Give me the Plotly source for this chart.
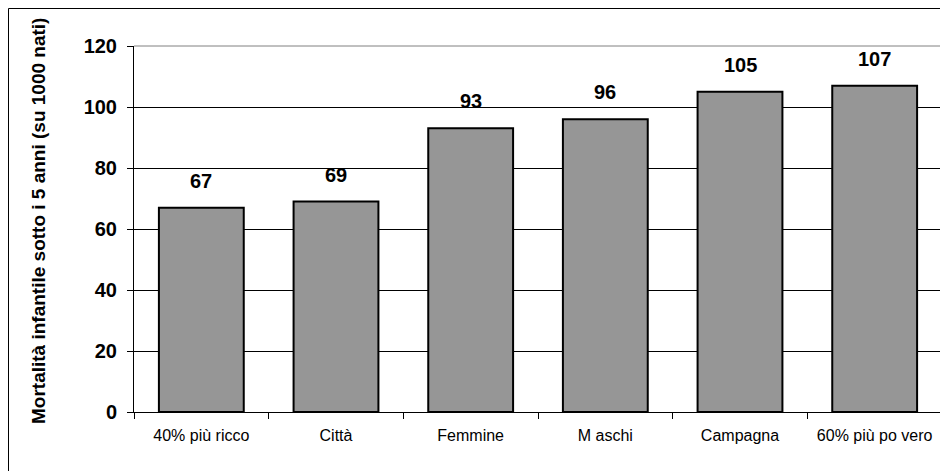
import plotly.graph_objects as go

categories = ["40% più ricco", "Città", "Femmine", "M aschi", "Campagna", "60% più po vero"]
values = [67, 69, 93, 96, 105, 107]
y_ticks = [0, 20, 40, 60, 80, 100, 120]
y_title = "Mortalità infantile sotto i 5 anni (su 1000 nati)"

W, H = 940, 463
L, R, T, B = 126, 6, 38, 59
pw = W - L - R
ph = H - T - B


def px(fx):
    return (fx - L) / pw


def py(fy):
    return (H - B - fy) / ph


fig = go.Figure()
fig.add_trace(go.Bar(
    x=categories, y=values,
    marker=dict(color="#969696", line=dict(color="black", width=2)),
    width=0.63,
))

for c, v in zip(categories, values):
    fig.add_annotation(
        x=c, y=v, text=str(v), showarrow=False,
        yanchor="bottom", yshift=14,
        font=dict(family="Liberation Sans", size=20, color="black", weight="bold"),
    )

fig.add_annotation(
    xref="paper", yref="paper", x=px(30), y=py(213),
    text=y_title, textangle=-90, showarrow=False,
    xanchor="center", yanchor="middle",
    font=dict(family="Liberation Sans", size=19, color="black", weight="bold"),
)

fig.update_layout(
    width=W, height=H,
    margin=dict(l=L, r=R, t=T, b=B),
    paper_bgcolor="white", plot_bgcolor="white",
    showlegend=False,
    font=dict(family="Liberation Sans", color="black"),
    xaxis=dict(
        showline=True, linecolor="black", linewidth=1,
        ticks="outside", ticklen=6, tickcolor="black",
        tickson="boundaries",
        tickfont=dict(size=16, color="black"),
        ticklabelstandoff=9,
        showgrid=False,
    ),
    yaxis=dict(
        range=[0, 120], tickvals=y_ticks,
        showline=True, linecolor="black", linewidth=1,
        ticks="outside", ticklen=6, tickcolor="black",
        showgrid=True, gridcolor="black", gridwidth=1,
        zeroline=False,
        tickfont=dict(size=20, color="black", weight="bold"),
        ticklabelstandoff=6,
    ),
    shapes=[
        dict(type="line", xref="paper", yref="paper", x0=0, x1=1, y0=1, y1=1,
             line=dict(color="#808080", width=1)),
        dict(type="line", xref="paper", yref="paper", x0=1, x1=1, y0=0, y1=1,
             line=dict(color="#808080", width=1)),
        dict(type="rect", xref="paper", yref="paper",
             x0=px(0.5), x1=px(935), y0=py(470), y1=py(0.5),
             line=dict(color="black", width=1), fillcolor="rgba(0,0,0,0)", layer="above"),
    ],
)

fig.write_html("out.html")
